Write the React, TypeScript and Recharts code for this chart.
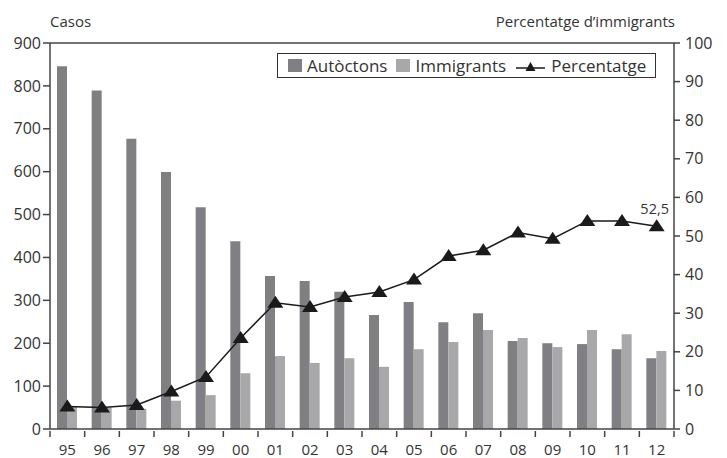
import {
  ComposedChart, Bar, Line, XAxis, YAxis, Legend, ReferenceLine, LabelList
} from "recharts";

const years = ["95", "96", "97", "98", "99", "00", "01", "02", "03", "04", "05", "06", "07", "08", "09", "10", "11", "12"];
const autoctons = [846, 789, 677, 599, 517, 438, 357, 345, 320, 266, 296, 249, 270, 205, 200, 198, 186, 165];
const immigrants = [52, 50, 47, 66, 79, 130, 170, 154, 165, 145, 186, 203, 231, 212, 191, 231, 221, 182];
const percentatge = [5.8, 5.6, 6.2, 9.7, 13.5, 23.6, 32.7, 31.6, 34.2, 35.5, 38.7, 44.8, 46.3, 50.9, 49.3, 53.9, 53.9, 52.5];
const casosTicks = [0, 100, 200, 300, 400, 500, 600, 700, 800, 900];
const pctTicks = [0, 10, 20, 30, 40, 50, 60, 70, 80, 90, 100];

const W = 727;
const H = 458;
const LEFT_W = 50;
const RIGHT_W = 53;
const BAND = (W - LEFT_W - RIGHT_W) / years.length;
const INK = "#333333";
const AXIS = "#444444";
const DARK = "#808084";
const LIGHT = "#a8a8ab";
const FONT = "'Open Sans', sans-serif";

const data = years.map((y, i) => ({
  year: y,
  autoctons: autoctons[i],
  immigrants: immigrants[i],
  pct: percentatge[i],
}));

// ticks sit between categories, labels at the centre
const YearTick = (props: any) => {
  const { x, y, payload, index } = props;
  const half = BAND / 2;
  return (
    <g>
      <line x1={x - half} x2={x - half} y1={y} y2={y + 6} stroke={AXIS} strokeWidth={1.5} />
      {index === years.length - 1 && (
        <line x1={x + half} x2={x + half} y1={y} y2={y + 6} stroke={AXIS} strokeWidth={1.5} />
      )}
      <text x={x} y={y + 24} textAnchor="middle" fill={INK} fontSize={15} fontFamily={FONT}>
        {payload.value}
      </text>
    </g>
  );
};

const Triangle = (props: any) => {
  const { cx, cy } = props;
  if (cx == null || cy == null) return null;
  return (
    <polygon
      points={`${cx},${cy - 7} ${cx + 8},${cy + 5} ${cx - 8},${cy + 5}`}
      fill="#1a1a1a"
    />
  );
};

const LastLabel = (props: any) => {
  const { x, y, value, index } = props;
  if (index !== years.length - 1) return null;
  return (
    <text x={x - 2} y={y - 12} textAnchor="middle" fill={INK} fontSize={14.5} fontFamily={FONT}>
      {String(value).replace(".", ",")}
    </text>
  );
};

const LegendBox = () => (
  <div
    style={{
      border: `1px solid ${INK}`,
      height: 25,
      display: "flex",
      alignItems: "center",
      fontFamily: FONT,
      fontSize: 17,
      color: INK,
      paddingLeft: 10,
      boxSizing: "border-box",
      background: "#fff",
      whiteSpace: "nowrap",
    }}
  >
    <span style={{ width: 14, height: 13, background: DARK, display: "inline-block", marginRight: 5 }} />
    <span style={{ marginRight: 9 }}>Autòctons</span>
    <span style={{ width: 14, height: 13, background: LIGHT, display: "inline-block", marginRight: 5 }} />
    <span style={{ marginRight: 10 }}>Immigrants</span>
    <svg width={29} height={14} style={{ marginRight: 6 }}>
      <line x1={0} x2={29} y1={9} y2={9} stroke="#1a1a1a" strokeWidth={1.5} />
      <polygon points="14.5,3 19.5,12 9.5,12" fill="#1a1a1a" />
    </svg>
    <span>Percentatge</span>
  </div>
);

export default function App() {
  return (
    <div style={{ position: "absolute", left: 0, top: 0, width: W, height: H, background: "#fff" }}>
      <div style={{ position: "absolute", left: 50, top: 11, fontFamily: FONT, fontSize: 15, color: INK }}>
        Casos
      </div>
      <div style={{ position: "absolute", right: W - 675, top: 11, fontFamily: FONT, fontSize: 15, color: INK }}>
        Percentatge d’immigrants
      </div>
      <ComposedChart
        width={W}
        height={H}
        data={data}
        margin={{ top: 43, right: 0, bottom: 0, left: 0 }}
        barGap={0}
        barSize={10}
        style={{ overflow: "visible" }}
      >
        <XAxis
          dataKey="year"
          xAxisId="x"
          height={29}
          tickLine={false}
          tickSize={0}
          tick={<YearTick />}
          interval={0}
          axisLine={{ stroke: AXIS, strokeWidth: 1.5 }}
        />
        <YAxis
          yAxisId="left"
          orientation="left"
          width={LEFT_W}
          domain={[0, 900]}
          ticks={casosTicks}
          interval={0}
          tickSize={7}
          tickMargin={2}
          axisLine={{ stroke: AXIS, strokeWidth: 1.5 }}
          tickLine={{ stroke: AXIS, strokeWidth: 1.5 }}
          tick={{ fill: INK, fontSize: 16, fontFamily: FONT }}
        />
        <YAxis
          yAxisId="right"
          orientation="right"
          width={RIGHT_W}
          domain={[0, 100]}
          ticks={pctTicks}
          interval={0}
          tickSize={6}
          tickMargin={5}
          axisLine={{ stroke: AXIS, strokeWidth: 1.5 }}
          tickLine={{ stroke: AXIS, strokeWidth: 1.5 }}
          tick={{ fill: INK, fontSize: 16, fontFamily: FONT, textAnchor: "start" }}
        />
        <ReferenceLine yAxisId="left" xAxisId="x" y={900} stroke={AXIS} strokeWidth={1.5} />
        <Legend
          verticalAlign="middle"
          layout="horizontal"
          content={<LegendBox />}
          wrapperStyle={{ position: "absolute", left: 277, top: 53, width: 379, height: 26 }}
        />
        <Bar xAxisId="x" yAxisId="left" dataKey="autoctons" name="Autòctons" fill={DARK} isAnimationActive={false} />
        <Bar xAxisId="x" yAxisId="left" dataKey="immigrants" name="Immigrants" fill={LIGHT} isAnimationActive={false} />
        <Line
          xAxisId="x"
          yAxisId="right"
          dataKey="pct"
          name="Percentatge"
          type="linear"
          stroke="#1a1a1a"
          strokeWidth={1.5}
          dot={<Triangle />}
          activeDot={false}
          isAnimationActive={false}
        >
          <LabelList dataKey="pct" content={<LastLabel />} />
        </Line>
      </ComposedChart>
    </div>
  );
}
